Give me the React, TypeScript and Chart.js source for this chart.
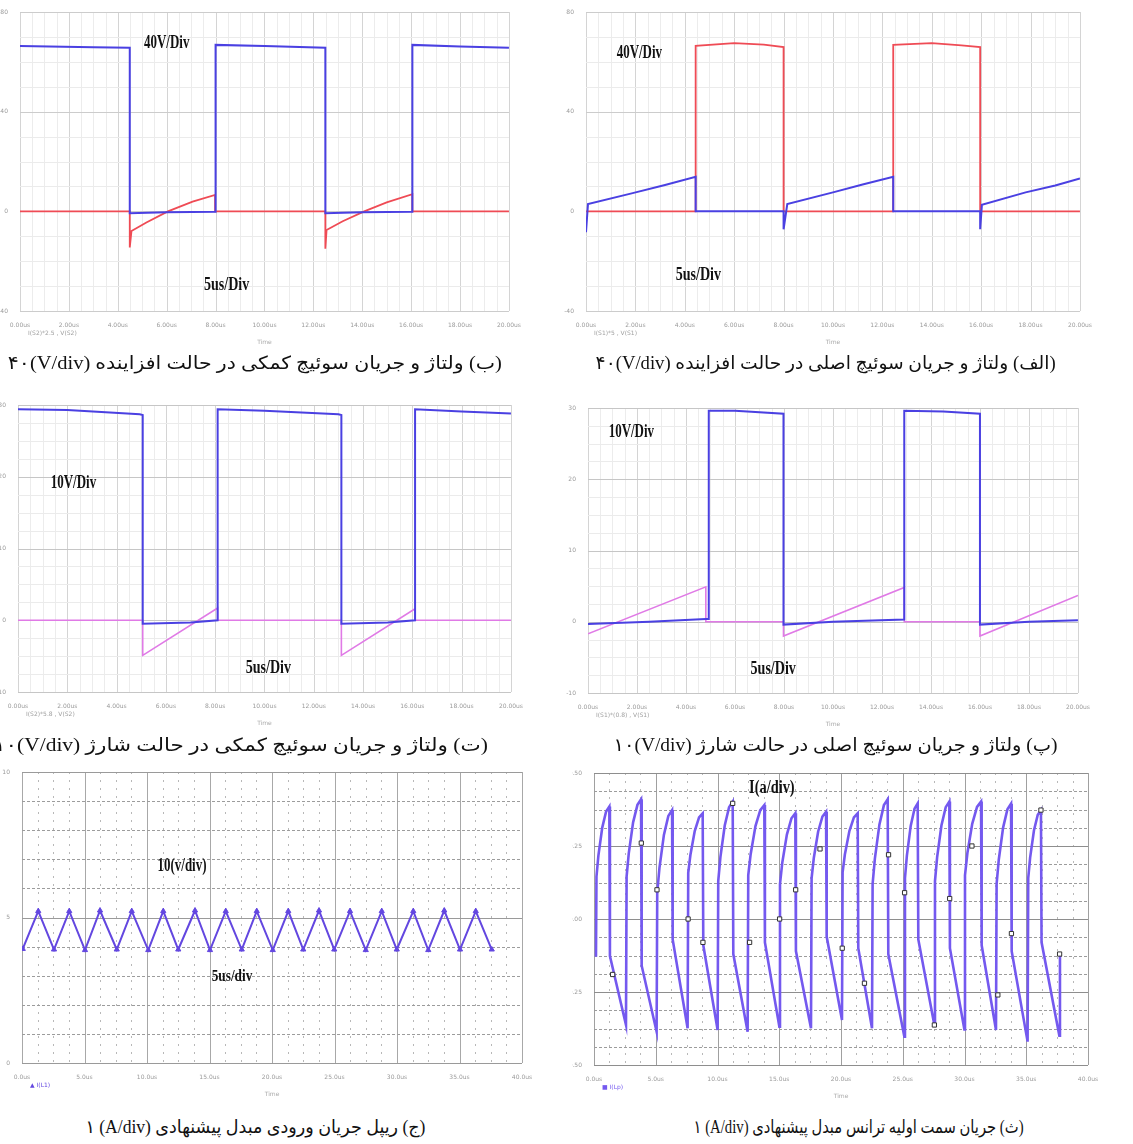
import React, { useEffect, useLayoutEffect, useRef } from "react";
import { Chart, registerables } from "chart.js";
Chart.register(...registerables);

// ================= DATA (time in µs, values in V or A) =================
// (ب) auxiliary switch, boost mode
const bVoltT = [0, 3.0, 4.49, 4.49, 6.0, 8.0, 8.0, 10.0, 12.49, 12.49, 14.0, 16.05, 16.05, 18.0, 20];
const bVoltV = [66.4, 65.9, 65.7, -0.8, -0.4, -0.2, 66.8, 66.4, 65.7, -0.8, -0.4, -0.2, 66.8, 66.2, 65.7];
const bCurrT = [0, 4.49, 4.49, 4.56, 5.17, 6.05, 7.06, 7.98, 7.98, 12.49, 12.49, 12.54, 13.2, 14.08, 15.0, 16.05, 16.05, 20];
const bCurrV = [0, 0, -14.5, -7.9, -4.5, 0, 3.9, 6.6, 0, 0, -15, -7.5, -4.0, 0, 3.6, 6.9, 0, 0];

// (الف) main switch, boost mode
const aVoltT = [0, 4.44, 4.44, 6.0, 7.2, 8.0, 8.0, 12.44, 12.44, 14.0, 15.2, 15.96, 15.96, 20];
const aVoltV = [0, 0, 66.4, 67.5, 66.9, 65.9, 0, 0, 66.8, 67.5, 66.6, 65.9, 0, 0];
const aCurrT = [0, 0.08, 1.89, 3.2, 4.44, 4.44, 8.0, 8.0, 8.15, 10.0, 11.2, 12.44, 12.44, 15.96, 15.96, 16.03, 17.8, 19.0, 20];
const aCurrV = [-8.4, 2.9, 7.3, 10.6, 13.9, 0, 0, -7.2, 2.9, 7.6, 10.8, 13.9, 0, 0, -7.2, 2.6, 7.6, 10.4, 13.2];

// (ت) auxiliary switch, charge mode
const tVoltT = [0, 2.0, 4.94, 5.06, 5.06, 7.0, 8.1, 8.1, 10.0, 13.0, 13.12, 13.12, 15.0, 16.11, 16.11, 18.0, 20];
const tVoltV = [29.4, 29.3, 28.7, 28.6, -0.5, -0.3, 0, 29.4, 29.2, 28.7, 28.6, -0.5, -0.3, 0, 29.4, 29.1, 28.8];
const tCurrT = [0, 5.06, 5.06, 8.1, 8.1, 13.12, 13.12, 16.11, 16.11, 20];
const tCurrV = [0, 0, -4.9, 1.7, 0, 0, -4.9, 1.6, 0, 0];

// (پ) main switch, charge mode
const pVoltT = [0, 2.5, 4.81, 4.93, 4.93, 6.0, 7.98, 7.98, 10.0, 12.91, 12.91, 14.5, 16.0, 16.0, 18.0, 20];
const pVoltV = [-0.3, 0, 0.4, 0.4, 29.6, 29.6, 29.2, -0.4, 0, 0.3, 29.6, 29.5, 29.2, -0.4, 0, 0.2];
const pCurrT = [0, 4.81, 4.81, 7.98, 7.98, 12.91, 12.91, 16.0, 16.0, 20];
const pCurrV = [-1.7, 4.9, 0, 0, -2.0, 4.8, 0, 0, -2.0, 3.7];

// (ج) input current ripple
const cT = [0.06, 1.3, 2.56, 3.78, 5.04, 6.24, 7.58, 8.78, 10.1, 11.3, 12.5, 13.84, 15.04, 16.3, 17.58, 18.78, 20.06, 21.3, 22.5, 23.76, 24.98, 26.24, 27.5, 28.78, 29.98, 31.3, 32.5, 33.78, 35.04, 36.3, 37.58];
const cV = [3.92, 5.22, 3.9, 5.22, 3.88, 5.24, 3.9, 5.22, 3.88, 5.22, 3.9, 5.24, 3.88, 5.22, 3.9, 5.22, 3.88, 5.22, 3.9, 5.24, 3.9, 5.22, 3.88, 5.22, 3.9, 5.22, 3.88, 5.24, 3.9, 5.22, 3.9];

// (ث) transformer primary current
const gStartT = [0.16, 0.2];
const gStartV = [-0.129, 0.145];
// rising-arc readings before each peak (at 15 %, 45 %, 75 % of the arc)
const gMid1V = [0.217, 0.225, 0.175, 0.219, 0.212, 0.222, 0.193, 0.208, 0.221, 0.207, 0.217, 0.212, 0.226, 0.203, 0.21];
const gMid2V = [0.313, 0.331, 0.288, 0.301, 0.32, 0.318, 0.289, 0.299, 0.301, 0.323, 0.319, 0.32, 0.326, 0.313, 0.303];
const gMid3V = [0.368, 0.391, 0.353, 0.348, 0.383, 0.373, 0.345, 0.351, 0.348, 0.39, 0.378, 0.383, 0.384, 0.376, 0.357];
const gPeakT = [1.24, 3.81, 6.32, 8.8, 11.23, 13.79, 16.3, 18.79, 21.35, 23.78, 26.21, 28.77, 31.34, 33.77, 36.19];
const gPeakV = [0.385, 0.41, 0.373, 0.362, 0.402, 0.39, 0.362, 0.367, 0.362, 0.41, 0.396, 0.402, 0.402, 0.395, 0.373];
const gDropV = [-0.127, -0.16, -0.07, -0.09, -0.12, -0.08, -0.11, -0.06, -0.1, -0.12, -0.07, -0.1, -0.09, -0.11, -0.08];
const gTroughT = [2.59, 5.07, 7.58, 10.01, 12.44, 15.01, 17.57, 20.08, 22.51, 25.13, 27.56, 29.99, 32.55, 35.11, 37.68];
const gTroughV = [-0.363, -0.386, -0.374, -0.38, -0.386, -0.369, -0.374, -0.346, -0.374, -0.403, -0.363, -0.378, -0.38, -0.42, -0.4];
const gRiseV = [0.145, 0.09, 0.158, 0.13, 0.15, 0.12, 0.14, 0.16, 0.12, 0.14, 0.13, 0.15, 0.12, 0.14, -0.117];
const gMarkT = [1.51, 3.83, 5.1, 7.62, 8.82, 11.23, 12.6, 15.03, 16.33, 18.3, 20.1, 21.9, 23.85, 25.15, 27.56, 28.8, 30.6, 32.7, 33.8, 36.19, 37.7];
const gMarkV = [-0.19, 0.26, 0.1, 0.0, -0.08, 0.396, -0.08, 0.0, 0.1, 0.24, -0.1, -0.22, 0.22, 0.09, -0.363, 0.07, 0.25, -0.26, -0.05, 0.373, -0.12];

// ================= helpers =================
const zip = (t: number[], v: number[]) => t.map((x, i) => ({ x, y: v[i] }));
const ARC_S = [0.15, 0.45, 0.75];
const JUMP = 0.05;

function buildPrimary() {
  const t: number[] = [];
  const v: number[] = [];
  let prevT = gStartT[1];
  t.push(gStartT[0], gStartT[1]);
  v.push(gStartV[0], gStartV[1]);
  for (let i = 0; i < gPeakT.length; i++) {
    const mids = [gMid1V[i], gMid2V[i], gMid3V[i]];
    ARC_S.forEach((s, j) => {
      t.push(prevT + s * (gPeakT[i] - prevT));
      v.push(mids[j]);
    });
    t.push(gPeakT[i], gPeakT[i] + JUMP, gTroughT[i], gTroughT[i] + JUMP);
    v.push(gPeakV[i], gDropV[i], gTroughV[i], gRiseV[i]);
    prevT = gTroughT[i] + JUMP;
  }
  return zip(t, v);
}

type Grid = { step: number; color: string; width?: number; dash?: number[] };
type Note = { text: string; x: number; y: number; size: number; sx?: number };
type Series = {
  data: { x: number; y: number }[];
  color: string;
  width: number;
  marker?: string;
  markerRadius?: number;
  markerFill?: string;
  markerBorder?: string;
  showLine?: boolean;
};
type PanelDef = {
  plot: [number, number, number, number];
  x: [number, number, number];
  y: [number, number, number];
  xLabel: (v: number) => string;
  yLabel: (v: number) => string;
  xGrid: Grid[];
  yGrid: Grid[];
  series: Series[];
  notes: Note[];
  legend: string;
  legendColor: string;
};

const L = 22, T = 10, R = 14, B = 38;

function makePlugin(def: PanelDef) {
  return {
    id: "osc",
    beforeDatasetsDraw(chart: any) {
      const { ctx, chartArea: a, scales } = chart;
      const xs = scales.x, ys = scales.y;
      ctx.save();
      for (const g of def.xGrid) {
        ctx.strokeStyle = g.color;
        ctx.lineWidth = g.width ?? 1;
        ctx.setLineDash(g.dash ?? []);
        const n = Math.round((def.x[1] - def.x[0]) / g.step);
        for (let i = 0; i <= n; i++) {
          const px = Math.round(xs.getPixelForValue(def.x[0] + i * g.step)) + 0.5;
          ctx.beginPath();
          ctx.moveTo(px, a.top);
          ctx.lineTo(px, a.bottom);
          ctx.stroke();
        }
      }
      for (const g of def.yGrid) {
        ctx.strokeStyle = g.color;
        ctx.lineWidth = g.width ?? 1;
        ctx.setLineDash(g.dash ?? []);
        const n = Math.round((def.y[1] - def.y[0]) / g.step);
        for (let i = 0; i <= n; i++) {
          const py = Math.round(ys.getPixelForValue(def.y[0] + i * g.step)) + 0.5;
          ctx.beginPath();
          ctx.moveTo(a.left, py);
          ctx.lineTo(a.right, py);
          ctx.stroke();
        }
      }
      ctx.restore();
    },
    afterDatasetsDraw(chart: any) {
      const { ctx, scales, chartArea: a } = chart;
      ctx.save();
      ctx.fillStyle = "#111";
      ctx.textAlign = "center";
      ctx.textBaseline = "middle";
      for (const n of def.notes) {
        const px = scales.x.getPixelForValue(n.x);
        const py = scales.y.getPixelForValue(n.y);
        ctx.save();
        ctx.translate(px, py);
        ctx.scale(n.sx ?? 0.72, 1);
        ctx.font = `bold ${n.size}px "Liberation Serif", serif`;
        ctx.fillText(n.text, 0, 0);
        ctx.restore();
      }
      ctx.font = '6px "DejaVu Sans", sans-serif';
      ctx.fillStyle = def.legendColor;
      ctx.textAlign = "left";
      ctx.fillText(def.legend, a.left + 8, a.bottom + 22);
      ctx.restore();
    },
  };
}

function Panel({ def }: { def: PanelDef }) {
  const ref = useRef<HTMLCanvasElement>(null);
  const [pl, pt, pr, pb] = def.plot;
  const w = pr - pl + L + R;
  const h = pb - pt + T + B;
  useEffect(() => {
    const datasets = def.series.map((s) => ({
      data: s.data,
      borderColor: s.color,
      backgroundColor: s.markerFill ?? s.color,
      borderWidth: s.width,
      showLine: s.showLine ?? true,
      pointRadius: s.marker ? s.markerRadius ?? 2.5 : 0,
      pointStyle: (s.marker ?? "circle") as any,
      pointBackgroundColor: s.markerFill ?? s.color,
      pointBorderColor: s.markerBorder ?? s.color,
      pointBorderWidth: 1,
      tension: 0,
      fill: false,
    }));
    const chart = new Chart(ref.current!, {
      type: "line",
      data: { datasets },
      plugins: [makePlugin(def)],
      options: {
        responsive: false,
        animation: false,
        events: [],
        layout: { padding: { top: T, right: R, left: 0, bottom: 0 } },
        plugins: { legend: { display: false }, tooltip: { enabled: false } },
        scales: {
          x: {
            type: "linear",
            min: def.x[0],
            max: def.x[1],
            grid: { display: false },
            border: { display: false },
            ticks: {
              stepSize: def.x[2],
              autoSkip: false,
              maxRotation: 0,
              padding: 3,
              maxTicksLimit: 1000,
              color: "#9a9a9a",
              font: { size: 6, family: "DejaVu Sans" },
              callback: (v: any) => def.xLabel(Number(v)),
            },
            title: {
              display: true,
              text: "Time",
              color: "#aaaaaa",
              font: { size: 6, family: "DejaVu Sans" },
              padding: { top: 0, bottom: 3 },
            },
            afterFit: (s: any) => {
              s.height = B;
            },
          },
          y: {
            type: "linear",
            min: def.y[0],
            max: def.y[1],
            grid: { display: false },
            border: { display: false },
            ticks: {
              stepSize: def.y[2],
              padding: 4,
              maxTicksLimit: 1000,
              color: "#9a9a9a",
              font: { size: 6, family: "DejaVu Sans" },
              callback: (v: any) => def.yLabel(Number(v)),
            },
            afterFit: (s: any) => {
              s.width = L;
            },
          },
        },
      },
    });
    return () => chart.destroy();
  }, []);
  return (
    <div style={{ position: "absolute", left: pl - L, top: pt - T, width: w, height: h }}>
      <canvas ref={ref} width={w} height={h} style={{ width: w, height: h, display: "block" }} />
    </div>
  );
}

function Caption({ cx, cy, width, ltr, rtl }: { cx: number; cy: number; width: number; ltr: string; rtl: string }) {
  const ref = useRef<HTMLSpanElement>(null);
  useLayoutEffect(() => {
    const el = ref.current;
    if (!el) return;
    el.style.transform = "none";
    const wd = el.getBoundingClientRect().width;
    if (wd > 0) el.style.transform = `scaleX(${width / wd})`;
  }, []);
  return (
    <div
      style={{
        position: "absolute",
        left: cx - 400,
        top: cy - 15,
        width: 800,
        height: 30,
        display: "flex",
        alignItems: "center",
        justifyContent: "center",
      }}
    >
      <span
        ref={ref}
        style={{
          display: "inline-block",
          whiteSpace: "nowrap",
          fontSize: 18,
          lineHeight: 1,
          color: "#111",
          fontFamily: '"Liberation Serif", "DejaVu Sans", serif',
          transformOrigin: "center",
        }}
      >
        <span dir="ltr">{ltr}</span> <span dir="rtl">{rtl}</span>
      </span>
    </div>
  );
}

// ================= panel definitions =================
const us2 = (v: number) => `${v.toFixed(2)}us`;
const us1 = (v: number) => `${v.toFixed(1)}us`;
const num0 = (v: number) => `${v}`;
const num2 = (v: number) => v.toFixed(2);

const topGridX: Grid[] = [
  { step: 0.5, color: "#ececec" },
  { step: 2, color: "#d4d4d4" },
];
const topGridY: Grid[] = [
  { step: 10, color: "#ebebeb" },
  { step: 40, color: "#cccccc" },
];
const midGridY: Grid[] = [
  { step: 2.5, color: "#ebebeb" },
  { step: 10, color: "#c6c6c6" },
];

const BLUE = "#4a40e2";
const RED = "#ef4b55";
const MAG = "#e07ae6";

const panels: PanelDef[] = [
  {
    plot: [20, 12, 510, 311],
    x: [0, 20, 2],
    y: [-40, 80, 40],
    xLabel: us2,
    yLabel: num0,
    xGrid: topGridX,
    yGrid: topGridY,
    series: [
      { data: zip(bVoltT, bVoltV), color: BLUE, width: 2 },
      { data: zip(bCurrT, bCurrV), color: RED, width: 1.8 },
    ],
    notes: [
      { text: "40V/Div", x: 6.0, y: 67.6, size: 18 },
      { text: "5us/Div", x: 8.45, y: -29.6, size: 18, sx: 0.78 },
    ],
    legend: "I(S2)*2.5 , V(S2)",
    legendColor: "#a0a0a0",
  },
  {
    plot: [586, 12, 1081, 311],
    x: [0, 20, 2],
    y: [-40, 80, 40],
    xLabel: us2,
    yLabel: num0,
    xGrid: topGridX,
    yGrid: topGridY,
    series: [
      { data: zip(aCurrT, aCurrV), color: BLUE, width: 2 },
      { data: zip(aVoltT, aVoltV), color: RED, width: 1.8 },
    ],
    notes: [
      { text: "40V/Div", x: 2.16, y: 63.6, size: 18 },
      { text: "5us/Div", x: 4.55, y: -25.5, size: 18, sx: 0.78 },
    ],
    legend: "I(S1)*5 , V(S1)",
    legendColor: "#a0a0a0",
  },
  {
    plot: [18, 405, 512, 692],
    x: [0, 20, 2],
    y: [-10, 30, 10],
    xLabel: us2,
    yLabel: num0,
    xGrid: topGridX,
    yGrid: midGridY,
    series: [
      { data: zip(tVoltT, tVoltV), color: BLUE, width: 2 },
      { data: zip(tCurrT, tCurrV), color: MAG, width: 1.6 },
    ],
    notes: [
      { text: "10V/Div", x: 2.25, y: 19.1, size: 18 },
      { text: "5us/Div", x: 10.16, y: -6.65, size: 18, sx: 0.78 },
    ],
    legend: "I(S2)*5.8 , V(S2)",
    legendColor: "#a0a0a0",
  },
  {
    plot: [588, 408, 1079, 693],
    x: [0, 20, 2],
    y: [-10, 30, 10],
    xLabel: us2,
    yLabel: num0,
    xGrid: topGridX,
    yGrid: midGridY,
    series: [
      { data: zip(pVoltT, pVoltV), color: BLUE, width: 2 },
      { data: zip(pCurrT, pCurrV), color: MAG, width: 1.6 },
    ],
    notes: [
      { text: "10V/Div", x: 1.77, y: 26.6, size: 18 },
      { text: "5us/Div", x: 7.56, y: -6.7, size: 18, sx: 0.78 },
    ],
    legend: "I(S1)*(0.8) , V(S1)",
    legendColor: "#a0a0a0",
  },
  {
    plot: [22, 772, 522, 1063],
    x: [0, 40, 5],
    y: [0, 10, 5],
    xLabel: us1,
    yLabel: num0,
    xGrid: [
      { step: 1.25, color: "#b8b8b8", dash: [2, 6] },
      { step: 5, color: "#a8a8a8" },
    ],
    yGrid: [
      { step: 1, color: "#9c9c9c", dash: [3, 2] },
      { step: 5, color: "#9a9a9a" },
    ],
    series: [{ data: zip(cT, cV), color: "#6347e0", width: 2, marker: "triangle", markerRadius: 3 }],
    notes: [
      { text: "10(v/div)", x: 12.8, y: 6.77, size: 18, sx: 0.72 },
      { text: "5us/div", x: 16.8, y: 2.96, size: 17, sx: 0.78 },
    ],
    legend: "▲ I(L1)",
    legendColor: "#6347e0",
  },
  {
    plot: [594, 773, 1088, 1065],
    x: [0, 40, 5],
    y: [-0.5, 0.5, 0.25],
    xLabel: us1,
    yLabel: num2,
    xGrid: [
      { step: 1.25, color: "#b8b8b8", dash: [2, 6] },
      { step: 5, color: "#a0a0a0" },
    ],
    yGrid: [
      { step: 0.0625, color: "#9c9c9c", dash: [3, 2] },
      { step: 0.25, color: "#8e8e8e" },
    ],
    series: [
      {
        data: zip(gMarkT, gMarkV),
        color: "#333",
        width: 1,
        showLine: false,
        marker: "rect",
        markerRadius: 3,
        markerFill: "#ffffff",
        markerBorder: "#333333",
      },
      { data: buildPrimary(), color: "#7459ef", width: 2.6 },
    ],
    notes: [{ text: "I(a/div)", x: 14.4, y: 0.449, size: 18, sx: 0.8 }],
    legend: "■ I(Lp)",
    legendColor: "#7459ef",
  },
];

const captions = [
  { cx: 255, cy: 363, width: 494, ltr: "۴۰(V/div)", rtl: "(ب) ولتاژ و جریان سوئیچ کمکی در حالت افزاینده" },
  { cx: 826, cy: 363, width: 460, ltr: "۴۰(V/div)", rtl: "(الف) ولتاژ و جریان سوئیچ اصلی در حالت افزاینده" },
  { cx: 241, cy: 745, width: 494, ltr: "۱۰(V/div)", rtl: "(ت) ولتاژ و جریان سوئیچ کمکی در حالت شارژ" },
  { cx: 836, cy: 745, width: 444, ltr: "۱۰(V/div)", rtl: "(پ) ولتاژ و جریان سوئیچ اصلی در حالت شارژ" },
  { cx: 255, cy: 1127, width: 340, ltr: "۱ (A/div)", rtl: "(ج) ریپل جریان ورودی مبدل پیشنهادی" },
  { cx: 859, cy: 1127, width: 330, ltr: "۱ (A/div)", rtl: "(ث) جریان سمت اولیه ترانس مبدل پیشنهادی" },
];

export default function App() {
  return (
    <div
      style={{
        position: "absolute",
        left: 0,
        top: 0,
        width: 1133,
        height: 1144,
        background: "#ffffff",
        overflow: "hidden",
      }}
    >
      {panels.map((p, i) => (
        <Panel key={i} def={p} />
      ))}
      {captions.map((c, i) => (
        <Caption key={i} {...c} />
      ))}
    </div>
  );
}
